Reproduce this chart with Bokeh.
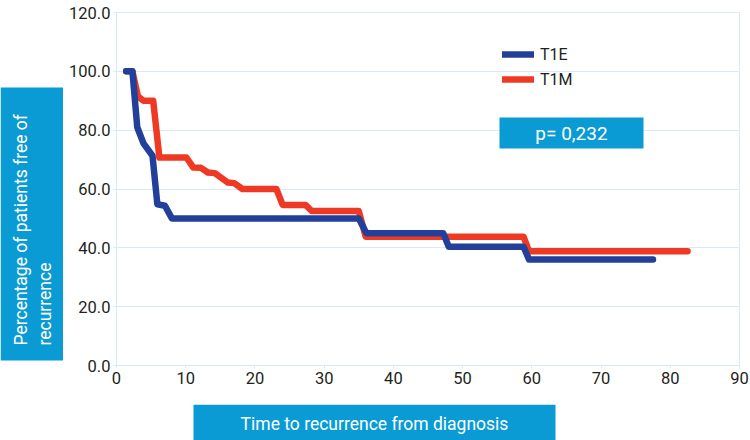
from math import pi
from bokeh.plotting import figure
from bokeh.layouts import row, column
from bokeh.models import (BoxAnnotation, Label, Legend, LegendItem, FixedTicker,
                          NumeralTickFormatter, Range1d)
from bokeh.embed import file_html
from bokeh.resources import INLINE

# ---- data ----
t1e_time = [1.4, 2.3, 3.0, 3.9, 5.2, 5.9, 7.0, 8.0, 35.0, 36.1, 47.2, 48.0, 58.8, 59.6, 77.5]
t1e_pct = [100, 100, 81.0, 75.5, 71.3, 54.8, 54.3, 50.0, 50.0, 45.0, 45.0, 40.4, 40.4, 36.0, 36.0]

t1m_time = [1.4, 2.3, 3.1, 3.9, 5.3, 6.2, 10.1, 11.1, 12.2, 13.2, 14.2, 16.1, 17.0, 18.2, 23.1,
            24.0, 27.3, 28.2, 35.0, 36.0, 58.8, 59.6, 82.5]
t1m_pct = [100, 100, 91.5, 90.0, 90.0, 70.7, 70.7, 67.3, 67.2, 65.6, 65.4, 62.2, 62.0, 60.0, 60.0,
           54.6, 54.6, 52.5, 52.5, 43.8, 43.8, 38.8, 38.8]

x_ticks = [0, 10, 20, 30, 40, 50, 60, 70, 80, 90]
y_ticks = [0, 20, 40, 60, 80, 100, 120]
series_names = ["T1E", "T1M"]
p_text = "p= 0,232"
x_title = "Time to recurrence from diagnosis"
y_title = "Percentage of patients free of\nrecurrence"

BLUE = "#22409a"
RED = "#ee3a24"
BOX = "#0a9bd4"
GRID = "#d8eaf4"
FONT = "Roboto"

W, H = 750, 440
LEFT_W = 63        # width of the strip holding the y title box
BOTTOM_H = 36      # height of the strip holding the x title box
FRAME_L, FRAME_R, FRAME_T, FRAME_B = 116, 739, 12, 365   # plot frame in page pixels


def blank(width, height, x0, x1, y0, y1, **borders):
    f = figure(width=width, height=height, output_backend="svg", toolbar_location=None,
               x_range=Range1d(x0, x1), y_range=Range1d(y1, y0),
               min_border_left=borders.get("left", 0), min_border_right=borders.get("right", 0),
               min_border_top=0, min_border_bottom=0)
    f.axis.visible = False
    f.grid.visible = False
    f.outline_line_color = None
    f.background_fill_color = "white"
    f.border_fill_color = "white"
    return f


# ---- main chart ----
main = figure(width=W - LEFT_W, height=H - BOTTOM_H, output_backend="svg", toolbar_location=None,
              x_range=Range1d(0, 90), y_range=Range1d(0, 120),
              min_border_left=FRAME_L - LEFT_W, min_border_right=W - FRAME_R,
              min_border_top=FRAME_T, min_border_bottom=(H - BOTTOM_H) - FRAME_B)
main.outline_line_color = GRID
main.background_fill_color = "white"
main.border_fill_color = "white"

main.xgrid.visible = False
main.ygrid.grid_line_color = GRID
main.ygrid.ticker = FixedTicker(ticks=y_ticks)

for ax in (main.xaxis[0], main.yaxis[0]):
    ax.axis_line_color = GRID
    ax.major_tick_line_color = GRID
    ax.minor_tick_line_color = None
    ax.major_tick_out = 3
    ax.major_tick_in = 0
    ax.major_label_text_font = FONT
    ax.major_label_text_font_size = "16.5px"
    ax.major_label_text_color = "#231f20"
    ax.major_label_standoff = 3

main.xaxis.ticker = FixedTicker(ticks=x_ticks)
main.yaxis.ticker = FixedTicker(ticks=y_ticks)
main.yaxis.formatter = NumeralTickFormatter(format="0.0")

r2 = main.line(t1m_time, t1m_pct, line_color=RED, line_width=6.5, line_join="round", line_cap="round")
r1 = main.line(t1e_time, t1e_pct, line_color=BLUE, line_width=6.5, line_join="round", line_cap="round")

legend = Legend(items=[LegendItem(label=series_names[0], renderers=[r1]),
                       LegendItem(label=series_names[1], renderers=[r2])],
                location=(386, 276), orientation="vertical",
                background_fill_alpha=0, border_line_color=None,
                padding=0, margin=0, spacing=5, label_height=20, glyph_height=20,
                glyph_width=32, label_standoff=6,
                label_text_font=FONT, label_text_font_size="16px", label_text_color="#231f20")
main.add_layout(legend)

main.add_layout(BoxAnnotation(left=383, right=527, top=248, bottom=217,
                              left_units="screen", right_units="screen",
                              top_units="screen", bottom_units="screen",
                              fill_color=BOX, fill_alpha=1, line_color=None))
main.add_layout(Label(x=455, y=232, x_units="screen", y_units="screen", text=p_text,
                      text_align="center", text_baseline="middle", text_color="white",
                      text_font=FONT, text_font_size="19px"))

# ---- y title strip (coordinates = page pixels) ----
left = blank(LEFT_W, H, 0, LEFT_W, 0, H)
left.add_layout(BoxAnnotation(left=0, right=63, top=87, bottom=360,
                              fill_color=BOX, fill_alpha=1, line_color=None))
left.add_layout(Label(x=32.5, y=345, text=y_title, angle=pi / 2,
                      text_align="left", text_baseline="middle", text_color="white",
                      text_font=FONT, text_font_size="17.5px", text_line_height=1.2))

# ---- x title strip (frame aligned with the main frame; coordinates = page pixels) ----
bottom = blank(W - LEFT_W, BOTTOM_H, FRAME_L, FRAME_R, H - BOTTOM_H, H,
               left=FRAME_L - LEFT_W, right=W - FRAME_R)
bottom.add_layout(BoxAnnotation(left=193, right=555, top=404, bottom=440,
                                fill_color=BOX, fill_alpha=1, line_color=None))
bottom.add_layout(Label(x=374, y=423, text=x_title,
                        text_align="center", text_baseline="middle", text_color="white",
                        text_font=FONT, text_font_size="17.5px"))

p = row(left, column(main, bottom, spacing=0), spacing=0)

open("out.html", "w").write(file_html(p, INLINE))
